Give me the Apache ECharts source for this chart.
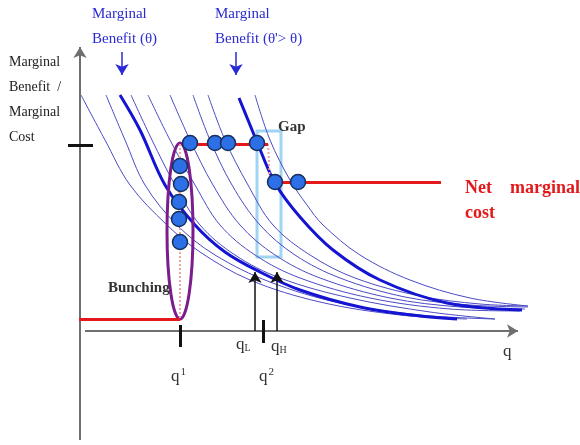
<!DOCTYPE html>
<html>
<head>
<meta charset="utf-8">
<script src="https://cdn.jsdelivr.net/npm/echarts@6/dist/echarts.min.js"></script>
<style>
  html, body { margin: 0; padding: 0; background: #fff; }
  #chart { width: 580px; height: 445px; }
</style>
</head>
<body>
<div id="chart"></div>
<script>
// q measured from the vertical axis, value measured from the horizontal axis
const thin1 = [[1,236],[25,191],[50,146],[87,106],[120,79],[170,51],[240,29],[320,16],[387,12]];
const thin2 = [[26,236],[45,191],[65,146],[97,106],[135,76],[190,49],[260,28],[340,16],[415,12]];
const thin3 = [[51,236],[72,191],[95,146],[120,106],[155,76],[200,53],[270,33],[350,19],[415,12]];
const thin4 = [[68,236],[90,191],[115,146],[140,106],[175,76],[220,53],[290,33],[370,22],[440,20]];
const thin5 = [[90,236],[110,191],[133,146],[160,106],[195,76],[240,53],[310,33],[380,24],[445,22]];
const thin6 = [[113,236],[130,191],[152,146],[180,106],[215,76],[260,53],[325,34],[390,26],[448,24]];
const thin7 = [[128,236],[145,191],[168,146],[193,106],[230,76],[275,53],[340,35],[400,27],[448,25]];
const thin8 = [[175,236],[190,191],[210,151],[227,126],[243,106],[280,76],[330,51],[390,33],[448,25]];
const mbTheta = [[40,236],[60,201],[85,146],[115,106],[145,79],[180,59],[220,41],[280,24],[340,15],[377,12]];
const mbThetaHigh = [[159,233],[168,211],[177,189],[195,148],[220,114],[253,81],[300,51],[367,28],[442,21]];

const topDots = [[110,188],[135,188],[148,188],[177,188]];
const bunchDots = [[100,165],[101,147],[99,129],[99,112],[100,89]];
const gapDots = [[195,149],[218,149]];

const costHigh = 187;   // upper net marginal cost step
const costMid = 149;    // after the gap
const costLow = 12;     // before q1
const q1 = 100, q2 = 183, qL = 175, qH = 197;
const gapBox = [177, 200, 201, 74];

const chart = echarts.init(document.getElementById('chart'));
const serif = '"Liberation Serif", "DejaVu Serif", serif';

const thinStyle = { color: '#4a4ac4', width: 1 };
const thickStyle = { color: '#1414d2', width: 3 };

function curve(data, style) {
  return {
    type: 'line', data: data, smooth: 0.35,
    showSymbol: false, silent: true, lineStyle: style, z: 2
  };
}

function seg(a, b, style, sym) {
  sym = sym || ['none', 'none'];
  return [
    { coord: a, symbol: sym[0], lineStyle: style },
    { coord: b, symbol: sym[1] }
  ];
}

const axisStyle = { color: '#6f6f6f', width: 2, type: 'solid' };
const redStyle = { color: '#e3191c', width: 3, type: 'solid' };
const pinkDot = { color: '#f3a2a2', width: 2, type: 'dotted' };
const blackTick = { color: '#111', width: 3, type: 'solid' };
const blackArrow = { color: '#111', width: 1.5, type: 'solid' };
const blueArrow = { color: '#2a2ad6', width: 1.5, type: 'solid' };

let option = {
  animation: false,
  grid: { left: 0, right: 0, top: 0, bottom: 0 },
  xAxis: { type: 'value', min: -80, max: 500, show: false },
  yAxis: { type: 'value', min: -114, max: 331, show: false },
  series: [
    curve(thin1, thinStyle), curve(thin2, thinStyle), curve(thin3, thinStyle),
    curve(thin4, thinStyle), curve(thin5, thinStyle), curve(thin6, thinStyle),
    curve(thin7, thinStyle), curve(thin8, thinStyle),
    curve(mbTheta, thickStyle), curve(mbThetaHigh, thickStyle),
    {
      type: 'scatter', data: [], silent: true, z: 3,
      markLine: {
        silent: true, animation: false, label: { show: false }, emphasis: { disabled: true },
        symbolSize: [10, 11],
        data: [
          seg([0, -109], [0, 284], axisStyle, ['none', 'arrow']),
          seg([5, 0], [438, 0], axisStyle, ['none', 'arrow']),
          seg([-12, costHigh - 1], [13, costHigh - 1], blackTick),
          seg([q1, 6], [q1, -16], blackTick),
          seg([q2, 11], [q2, -12], blackTick),
          seg([qL, 0], [qL, 59], blackArrow, ['none', 'arrow']),
          seg([qH, 0], [qH, 59], blackArrow, ['none', 'arrow']),
          seg([42, 279], [42, 256], blueArrow, ['none', 'arrow']),
          seg([156, 279], [156, 256], blueArrow, ['none', 'arrow']),
          seg([q1, costHigh], [q1, costLow], pinkDot),
          seg([188, costHigh], [190, costMid], pinkDot),
          seg([-1, costLow], [q1, costLow], redStyle),
          seg([q1 + 8, costHigh], [188, costHigh], redStyle),
          seg([190, costMid], [361, costMid], redStyle, ['arrow', 'none'])
        ]
      },
      markArea: {
        silent: true,
        itemStyle: { color: 'rgba(0,0,0,0)', borderColor: '#9fd4f2', borderWidth: 3 },
        data: [[{ coord: [gapBox[0], gapBox[1]] }, { coord: [gapBox[2], gapBox[3]] }]]
      }
    },
    {
      type: 'scatter', silent: true, z: 6,
      data: topDots.concat(bunchDots, gapDots),
      symbolSize: 15,
      itemStyle: { color: '#2d6fe6', borderColor: '#16305e', borderWidth: 1.5, opacity: 1 }
    }
  ]
};
chart.setOption(option);

const ellC = chart.convertToPixel({ gridIndex: 0 }, [q1, 100]);
const ellEdge = chart.convertToPixel({ gridIndex: 0 }, [q1 + 13, costHigh + 1]);

function label(x, y, text, style) {
  return { type: 'text', x: x, y: y, z: 10, style: Object.assign({ text: text, font: '15px ' + serif, fill: '#222', verticalAlign: 'middle' }, style) };
}

chart.setOption({
  graphic: [
    {
      type: 'ellipse', z: 4,
      shape: { cx: ellC[0], cy: ellC[1], rx: ellEdge[0] - ellC[0], ry: ellC[1] - ellEdge[1] },
      style: { fill: 'none', stroke: '#7b1d8c', lineWidth: 3 }
    },
    label(92, 14, 'Marginal', { fill: '#2b2bd0' }),
    label(92, 39, 'Benefit (θ)', { fill: '#2b2bd0' }),
    label(215, 14, 'Marginal', { fill: '#2b2bd0' }),
    label(215, 39, "Benefit (θ'> θ)", { fill: '#2b2bd0' }),
    label(9, 62, 'Marginal', { font: '14px ' + serif }),
    label(9, 87, 'Benefit  /', { font: '14px ' + serif }),
    label(9, 112, 'Marginal', { font: '14px ' + serif }),
    label(9, 137, 'Cost', { font: '14px ' + serif }),
    label(278, 127, 'Gap', { font: 'bold 15px ' + serif, fill: '#333' }),
    label(108, 288, 'Bunching', { font: 'bold 15px ' + serif, fill: '#333' }),
    label(465, 188, 'Net    marginal', { font: 'bold 18px ' + serif, fill: '#e3191c' }),
    label(465, 213, 'cost', { font: 'bold 18px ' + serif, fill: '#e3191c' }),
    label(503, 352, 'q', { font: '17px ' + serif, fill: '#333' }),
    {
      type: 'text', x: 171, y: 377, z: 10,
      style: { text: '{b|q}{s|1}', verticalAlign: 'middle', fill: '#333',
        rich: { b: { font: '17px ' + serif, fill: '#333' }, s: { font: '11px ' + serif, fill: '#333', padding: [0, 0, 10, 1] } } }
    },
    {
      type: 'text', x: 259, y: 377, z: 10,
      style: { text: '{b|q}{s|2}', verticalAlign: 'middle', fill: '#333',
        rich: { b: { font: '17px ' + serif, fill: '#333' }, s: { font: '11px ' + serif, fill: '#333', padding: [0, 0, 10, 1] } } }
    },
    {
      type: 'text', x: 236, y: 345, z: 10,
      style: { text: '{b|q}{s|L}', verticalAlign: 'middle', fill: '#333',
        rich: { b: { font: '17px ' + serif, fill: '#333' }, s: { font: '10px ' + serif, fill: '#333', padding: [6, 0, 0, 0] } } }
    },
    {
      type: 'text', x: 271, y: 347, z: 10,
      style: { text: '{b|q}{s|H}', verticalAlign: 'middle', fill: '#333',
        rich: { b: { font: '17px ' + serif, fill: '#333' }, s: { font: '10px ' + serif, fill: '#333', padding: [6, 0, 0, 0] } } }
    }
  ]
});
</script>
</body>
</html>
